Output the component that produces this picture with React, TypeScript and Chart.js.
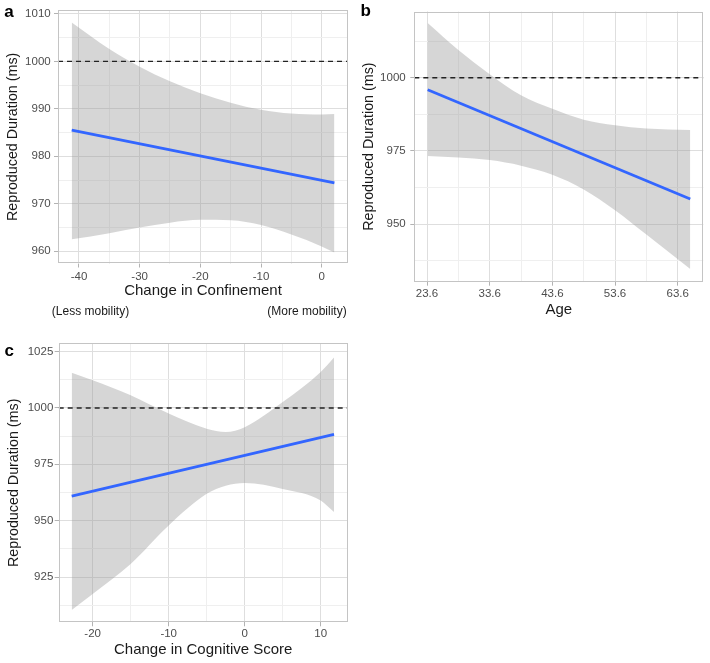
import React, { useEffect, useRef } from 'react';
import { Chart, registerables } from 'chart.js';

Chart.register(...registerables);

const FONT = "'Liberation Sans', Arial, Helvetica, sans-serif";
const REF_VALUE = 1000;

// ---------- Panel a: Change in Confinement ----------
const A_X_LIMITS = [-43.46, 4.34];
const A_Y_LIMITS = [957.4, 1010.8];
const A_X_TICKS = [-40, -30, -20, -10, 0];
const A_X_MINOR = [-35, -25, -15, -5];
const A_Y_TICKS = [960, 970, 980, 990, 1000, 1010];
const A_Y_MINOR = [965, 975, 985, 995, 1005];
const A_FIT_X = [-41.2, 2.1];
const A_FIT_Y = [985.5, 974.4];
const A_BAND_X = [-41.2, -35, -30, -25, -20, -15, -10, -5, 0, 2.1];
const A_UPPER = [1008.2, 1002.6, 998.9, 995.8, 993.3, 991.3, 989.8, 989.0, 988.8, 988.9];
const A_LOWER = [962.5, 963.8, 965.0, 966.0, 966.6, 966.5, 965.5, 963.5, 961.0, 959.7];

// ---------- Panel b: Age ----------
const B_X_LIMITS = [21.57, 67.68];
const B_Y_LIMITS = [930.4, 1022.6];
const B_X_TICKS = [23.6, 33.6, 43.6, 53.6, 63.6];
const B_X_MINOR = [28.6, 38.6, 48.6, 58.6];
const B_Y_TICKS = [950, 975, 1000];
const B_Y_MINOR = [937.5, 962.5, 987.5, 1012.5];
const B_FIT_X = [23.7, 65.6];
const B_FIT_Y = [995.9, 958.6];
const B_BAND_X = [23.7, 28.6, 33.6, 38.6, 43.6, 48.6, 53.6, 58.6, 65.6];
const B_UPPER = [1018.7, 1009.5, 1001.2, 994.0, 989.4, 985.7, 983.8, 982.7, 982.2];
const B_LOWER = [973.3, 972.8, 971.9, 970.0, 966.9, 961.9, 954.8, 946.5, 934.7];

// ---------- Panel c: Change in Cognitive Score ----------
const C_X_LIMITS = [-24.47, 13.55];
const C_Y_LIMITS = [904.9, 1028.7];
const C_X_TICKS = [-20, -10, 0, 10];
const C_X_MINOR = [-15, -5, 5];
const C_Y_TICKS = [925, 950, 975, 1000, 1025];
const C_Y_MINOR = [912.5, 937.5, 962.5, 987.5, 1012.5];
const C_FIT_X = [-22.76, 11.75];
const C_FIT_Y = [960.9, 988.3];
const C_BAND_X = [-22.76, -20, -15, -10, -5, -2.5, 0, 5, 10, 11.75];
const C_UPPER = [1015.6, 1012.3, 1005.6, 997.5, 990.8, 989.3, 991.5, 1002.6, 1016.0, 1022.4];
const C_LOWER = [910.4, 917.5, 930.8, 947.9, 961.9, 965.5, 966.7, 964.1, 959.0, 953.8];

const MAJOR_GRID = '#dedede';
const MINOR_GRID = '#efefef';
const TICK_MARK = '#b3b3b3';

type AxisLayout = {
  size: number;
  tickPad: number;
  titleSize: number;
  titlePad: number;
};

type PanelSpec = {
  left: number;
  top: number;
  width: number;
  height: number;
  padding: { left: number; right: number; top: number; bottom: number };
  xTitle: string;
  yTitle: string;
  xLimits: number[];
  yLimits: number[];
  xTicks: number[];
  xMinor: number[];
  yTicks: number[];
  yMinor: number[];
  xFmt: (v: number) => string;
  fitX: number[];
  fitY: number[];
  bandX: number[];
  upper: number[];
  lower: number[];
  xLayout: AxisLayout;
  yLayout: AxisLayout;
};

const pairs = (xs: number[], ys: number[]) => xs.map((x, i) => ({ x, y: ys[i] }));

function makeScale(
  horizontal: boolean,
  limits: number[],
  majors: number[],
  minors: number[],
  fmt: (v: number) => string,
  title: string,
  layout: AxisLayout
) {
  return {
    type: 'linear',
    position: horizontal ? 'bottom' : 'left',
    min: limits[0],
    max: limits[1],
    bounds: 'data',
    afterBuildTicks: (scale: any) => {
      const all = [
        ...majors.map((v) => ({ value: v, major: true })),
        ...minors.map((v) => ({ value: v, major: false })),
      ].sort((a, b) => a.value - b.value);
      scale.ticks = all;
    },
    afterFit: (scale: any) => {
      if (horizontal) scale.height = layout.size;
      else scale.width = layout.size;
    },
    grid: {
      color: (ctx: any) => (ctx.tick && ctx.tick.major ? MAJOR_GRID : MINOR_GRID),
      lineWidth: 1,
      drawTicks: true,
      tickLength: 4,
      tickWidth: 1,
      tickColor: (ctx: any) => (ctx.tick && ctx.tick.major ? TICK_MARK : 'rgba(0,0,0,0)'),
    },
    border: { display: false },
    ticks: {
      autoSkip: false,
      maxRotation: 0,
      minRotation: 0,
      padding: layout.tickPad,
      color: '#4d4d4d',
      font: { size: 11.5, family: FONT },
      callback: (v: any, i: number, ticks: any[]) => (ticks[i] && ticks[i].major ? fmt(Number(v)) : ''),
    },
    title: {
      display: true,
      text: title,
      color: '#1a1a1a',
      font: { size: layout.titleSize, family: FONT },
      padding: horizontal ? { top: 0, bottom: layout.titlePad } : { top: layout.titlePad, bottom: 0 },
    },
  };
}

const borderPlugin = {
  id: 'panelBorder',
  afterDraw(chart: any) {
    const { ctx, chartArea } = chart;
    const { left, top, right, bottom } = chartArea;
    ctx.save();
    ctx.strokeStyle = '#c4c4c4';
    ctx.lineWidth = 1;
    ctx.strokeRect(Math.round(left) + 0.5, Math.round(top) + 0.5, Math.round(right - left) - 1, Math.round(bottom - top) - 1);
    ctx.restore();
  },
};

function Panel({ spec }: { spec: PanelSpec }) {
  const ref = useRef<HTMLCanvasElement>(null);
  useEffect(() => {
    if (!ref.current) return;
    const chart = new Chart(ref.current, {
      type: 'line',
      data: {
        datasets: [
          {
            label: 'fit',
            data: pairs(spec.fitX, spec.fitY),
            borderColor: '#3366FF',
            borderWidth: 2.8,
            pointRadius: 0,
            fill: false,
          },
          {
            label: 'reference',
            data: [
              { x: spec.xLimits[0], y: REF_VALUE },
              { x: spec.xLimits[1], y: REF_VALUE },
            ],
            borderColor: '#222222',
            borderWidth: 1.3,
            borderDash: [5, 4],
            pointRadius: 0,
            fill: false,
          },
          {
            label: 'upper',
            data: pairs(spec.bandX, spec.upper),
            borderWidth: 0,
            borderColor: 'rgba(0,0,0,0)',
            backgroundColor: 'rgba(153,153,153,0.4)',
            pointRadius: 0,
            cubicInterpolationMode: 'monotone',
            fill: '+1',
          },
          {
            label: 'lower',
            data: pairs(spec.bandX, spec.lower),
            borderWidth: 0,
            borderColor: 'rgba(0,0,0,0)',
            pointRadius: 0,
            cubicInterpolationMode: 'monotone',
            fill: false,
          },
        ],
      },
      options: {
        responsive: false,
        animation: false,
        devicePixelRatio: 1,
        layout: { padding: spec.padding },
        plugins: {
          legend: { display: false },
          tooltip: { enabled: false },
        },
        scales: {
          x: makeScale(true, spec.xLimits, spec.xTicks, spec.xMinor, spec.xFmt, spec.xTitle, spec.xLayout) as any,
          y: makeScale(false, spec.yLimits, spec.yTicks, spec.yMinor, (v) => String(v), spec.yTitle, spec.yLayout) as any,
        },
      } as any,
      plugins: [borderPlugin],
    } as any);
    return () => chart.destroy();
  }, [spec]);
  return (
    <canvas
      ref={ref}
      width={spec.width}
      height={spec.height}
      style={{ position: 'absolute', left: spec.left, top: spec.top, width: spec.width, height: spec.height }}
    />
  );
}

const Y_TITLE = 'Reproduced Duration (ms)';

const PANEL_A: PanelSpec = {
  left: 0,
  top: 0,
  width: 355,
  height: 330,
  padding: { left: 0, right: 7, top: 3.5, bottom: 0 },
  xTitle: 'Change in Confinement',
  yTitle: Y_TITLE,
  xLimits: A_X_LIMITS,
  yLimits: A_Y_LIMITS,
  xTicks: A_X_TICKS,
  xMinor: A_X_MINOR,
  yTicks: A_Y_TICKS,
  yMinor: A_Y_MINOR,
  xFmt: (v) => String(v),
  fitX: A_FIT_X,
  fitY: A_FIT_Y,
  bandX: A_BAND_X,
  upper: A_UPPER,
  lower: A_LOWER,
  xLayout: { size: 66.5, tickPad: 2.1, titleSize: 15, titlePad: 30 },
  yLayout: { size: 58, tickPad: 3.3, titleSize: 14.3, titlePad: 4.7 },
};

const PANEL_B: PanelSpec = {
  left: 355,
  top: 0,
  width: 355,
  height: 330,
  padding: { left: 0, right: 6.7, top: 4, bottom: 0 },
  xTitle: 'Age',
  yTitle: Y_TITLE,
  xLimits: B_X_LIMITS,
  yLimits: B_Y_LIMITS,
  xTicks: B_X_TICKS,
  xMinor: B_X_MINOR,
  yTicks: B_Y_TICKS,
  yMinor: B_Y_MINOR,
  xFmt: (v) => v.toFixed(1),
  fitX: B_FIT_X,
  fitY: B_FIT_Y,
  bandX: B_BAND_X,
  upper: B_UPPER,
  lower: B_LOWER,
  xLayout: { size: 48.3, tickPad: 1.4, titleSize: 15, titlePad: 11 },
  yLayout: { size: 59.3, tickPad: 4.6, titleSize: 14.3, titlePad: 5.1 },
};

const PANEL_C: PanelSpec = {
  left: 0,
  top: 330,
  width: 355,
  height: 333,
  padding: { left: 0, right: 7.3, top: 13.3, bottom: 0 },
  xTitle: 'Change in Cognitive Score',
  yTitle: Y_TITLE,
  xLimits: C_X_LIMITS,
  yLimits: C_Y_LIMITS,
  xTicks: C_X_TICKS,
  xMinor: C_X_MINOR,
  yTicks: C_Y_TICKS,
  yMinor: C_Y_MINOR,
  xFmt: (v) => String(v),
  fitX: C_FIT_X,
  fitY: C_FIT_Y,
  bandX: C_BAND_X,
  upper: C_UPPER,
  lower: C_LOWER,
  xLayout: { size: 40.7, tickPad: 1.1, titleSize: 15, titlePad: 4 },
  yLayout: { size: 58.7, tickPad: 1.4, titleSize: 14.3, titlePad: 5.1 },
};

const labelStyle = (left: number, top: number): React.CSSProperties => ({
  position: 'absolute',
  left,
  top,
  fontFamily: FONT,
  fontWeight: 'bold',
  fontSize: 17,
  lineHeight: 1,
  color: '#000',
});

const noteStyle = (cx: number, top: number): React.CSSProperties => ({
  position: 'absolute',
  left: cx,
  top,
  transform: 'translateX(-50%)',
  whiteSpace: 'nowrap',
  fontFamily: FONT,
  fontSize: 12,
  lineHeight: '14px',
  color: '#1a1a1a',
});

export default function App() {
  return (
    <div style={{ position: 'absolute', left: 0, top: 0, width: 710, height: 663, background: '#fff', overflow: 'hidden' }}>
      <Panel spec={PANEL_A} />
      <Panel spec={PANEL_B} />
      <Panel spec={PANEL_C} />
      <div style={labelStyle(4.3, 2.6)}>a</div>
      <div style={labelStyle(360.5, 2.3)}>b</div>
      <div style={labelStyle(4.5, 342.3)}>c</div>
      <div style={noteStyle(90.5, 303.7)}>(Less mobility)</div>
      <div style={noteStyle(307, 303.7)}>(More mobility)</div>
    </div>
  );
}
